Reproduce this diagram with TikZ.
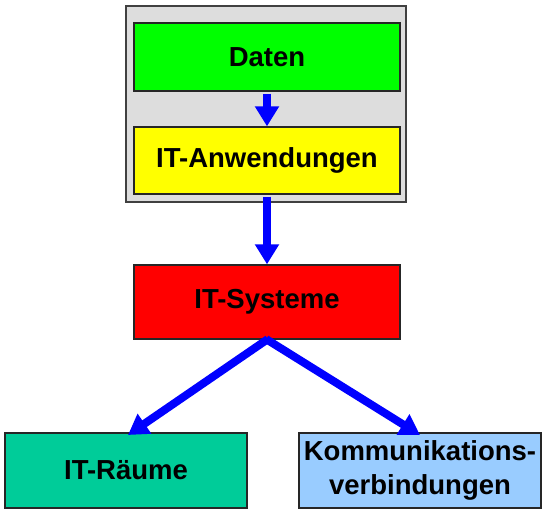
\documentclass[tikz,border=0pt]{standalone}
\usepackage{fontspec}
\setmainfont{Liberation Sans}
\usetikzlibrary{arrows.meta}
\definecolor{bggray}{HTML}{DDDDDD}
\definecolor{cgreen}{HTML}{00FF00}
\definecolor{cyellow}{HTML}{FFFF00}
\definecolor{cred}{HTML}{FF0000}
\definecolor{cteal}{HTML}{00CC99}
\definecolor{cblue}{HTML}{99CCFF}
\definecolor{arrblue}{HTML}{0000FF}
\tikzset{
  box/.style={draw=black!85, line width=1.3pt, inner sep=0pt, align=center,
     font=\fontsize{27.5}{34}\selectfont\bfseries},
  flow/.style={draw=arrblue, line width=8pt, -{Triangle[width=23pt,length=20pt]}}
}
\begin{document}
\begin{tikzpicture}[x=1pt,y=-1pt]
\useasboundingbox (0,0) rectangle (546,513);
\node[draw=black!75, line width=1.3pt, fill=bggray, minimum width=280pt, minimum height=196pt, inner sep=0pt] (grp) at (266,104) {};
\node[box, fill=cgreen, minimum width=266pt, minimum height=68pt] (daten) at (267,57) {Daten};
\node[box, fill=cyellow, minimum width=266pt, minimum height=67pt] (anw) at (267,160.5) {IT-Anwendungen};
\node[box, fill=cred, minimum width=266pt, minimum height=74pt] (sys) at (267,302) {IT-Systeme};
\node[box, fill=cteal, minimum width=242pt, minimum height=75pt] (raum) at (126,470.5) {IT-R\"aume};
\node[box, fill=cblue, minimum width=242pt, minimum height=75pt] (komm) at (420,470.5) {Kommunikations-\\verbindungen};
\coordinate (s) at (sys.south);
\coordinate (lt) at (128,435);
\coordinate (rt) at (420,435);
\draw[flow] ([yshift=-2pt]daten.south) -- (anw.north);
\draw[flow] ([yshift=-2pt]anw.south) -- (sys.north);
\draw[flow, shorten <=-1pt] (s) -- (lt);
\draw[flow, shorten <=-1pt] (s) -- (rt);
\end{tikzpicture}
\end{document}
